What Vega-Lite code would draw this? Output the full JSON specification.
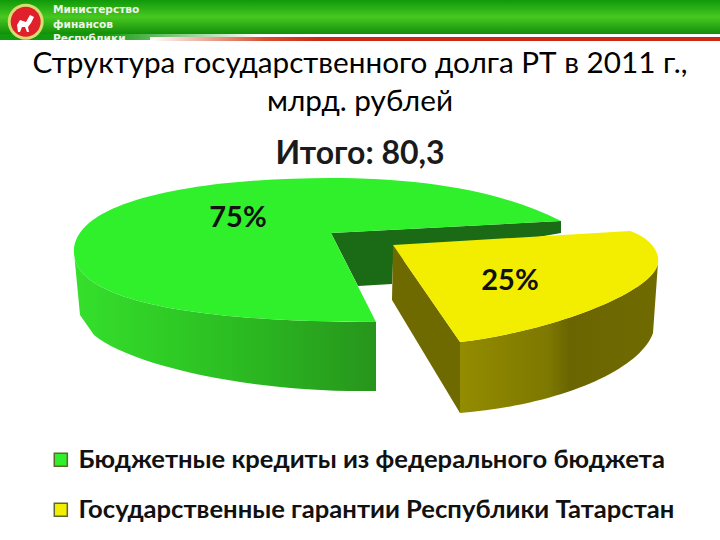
{
"$schema":"https://vega.github.io/schema/vega-lite/v6.json",
"width":720,"height":540,"autosize":"none","padding":0,"background":"white",
"config":{"view":{"stroke":null},"font":"Lato"},
"title":{"text":["Структура государственного долга РТ в 2011 г.,","млрд. рублей"],"subtitle":"Итого: 80,3","anchor":"middle","orient":"top","offset":0,"dy":171,"font":"Lato","fontSize":29.7,"fontWeight":"normal","color":"#000000","lineHeight":38,"subtitleFont":"Lato","subtitleFontSize":32,"subtitleFontWeight":"bold","subtitleColor":"#1a1a1a","subtitlePadding":21},
"datasets":{"shares":[{"category":"Бюджетные кредиты из федерального бюджета","share":0.75},{"category":"Государственные гарантии Республики Татарстан","share":0.25}],"org":[{"org":"Министерство\nфинансов\nРеспублики"}]},
"layer":[
{"data":{"name":"org"},"mark":{"type":"point","filled":true,"size":4,"strokeWidth":0,"opacity":1,"shape":"M-360,-270 H360 V-236 H-360 Z","fill":{"gradient":"linear","x1":0,"y1":0,"x2":0,"y2":1,"stops":[{"offset":0,"color":"#0f990a"},{"offset":0.5,"color":"#48c820"},{"offset":1,"color":"#128f0a"}]}}},
{"data":{"name":"org"},"mark":{"type":"point","filled":true,"size":4,"strokeWidth":0,"opacity":1,"shape":"M-360,-236 H-100 V-230 H-360 Z","fill":{"gradient":"linear","x1":0,"y1":0,"x2":1,"y2":0,"stops":[{"offset":0,"color":"#129a10"},{"offset":0.4,"color":"#129a10"},{"offset":1,"color":"#ffffff"}]}}},
{"data":{"name":"org"},"mark":{"type":"text","lineBreak":"\n","align":"left","baseline":"alphabetic","dx":-307,"dy":-257,"font":"DejaVu Sans","fontSize":10.6,"fontWeight":"bold","lineHeight":14.5,"color":"#eef5e6"},"encoding":{"text":{"field":"org"}}},
{"data":{"name":"org"},"mark":{"type":"point","filled":true,"size":4,"strokeWidth":0,"opacity":1,"shape":"M-360,-230 H360 V-150 H-360 Z","fill":"#ffffff"}},
{"data":{"name":"org"},"mark":{"type":"point","filled":true,"size":4,"strokeWidth":0,"opacity":1,"shape":"M-210,-233 H360 V-229 H-210 Z","fill":{"gradient":"linear","x1":0,"y1":0,"x2":1,"y2":0,"stops":[{"offset":0,"color":"#ffffff"},{"offset":0.2,"color":"#d8502f"},{"offset":0.3,"color":"#c92a10"},{"offset":1,"color":"#c92a10"}]}}},
{"data":{"name":"org"},"mark":{"type":"point","filled":true,"size":4,"strokeWidth":0,"opacity":1,"shape":"M-352.3,-248.3 a18,18 0 1,0 36,0 a18,18 0 1,0 -36,0 Z","fill":"#d9dc70"}},
{"data":{"name":"org"},"mark":{"type":"point","filled":true,"size":4,"strokeWidth":0,"opacity":1,"shape":"M-349.3,-248.3 a15,15 0 1,0 30,0 a15,15 0 1,0 -30,0 Z","fill":"#e0202a"}},
{"data":{"name":"org"},"mark":{"type":"point","filled":true,"size":4,"strokeWidth":0,"opacity":1,"shape":"M-343,-245 L-340,-250 L-334,-248 L-330,-255 L-326,-253 L-329,-247 L-332,-243 L-331,-238 L-333,-238 L-335,-243 L-338,-243 L-340,-238 L-342,-238 Z","fill":"#ffffff"}},
{"data":{"name":"shares"},"transform":[{"filter":"datum.share > 0.5"}],"mark":{"type":"point","filled":true,"size":4,"strokeWidth":0,"opacity":1,"shape":"M-29,-37 L201,-49 L201,-37 L33,-8 L32,14 L-2,16 Z","fill":"#1b6a15"}},
{"data":{"name":"shares"},"transform":[{"filter":"datum.share > 0.5"}],"mark":{"type":"point","filled":true,"size":4,"strokeWidth":0,"opacity":1,"shape":"M-286,-18 C-286,30 -170,52 16,52 L16,121 C-110,123 -230,95 -266,65 L-280,45 Z","fill":{"gradient":"linear","x1":0,"y1":0,"x2":1,"y2":0,"stops":[{"offset":0,"color":"#35e02c"},{"offset":0.5,"color":"#2cbf22"},{"offset":1,"color":"#27951c"}]}}},
{"data":{"name":"shares"},"transform":[{"filter":"datum.share < 0.5"}],"mark":{"type":"point","filled":true,"size":4,"strokeWidth":0,"opacity":1,"shape":"M33,-25 L100,72 L100,143 L32,30 Z","fill":"#6f6a00"}},
{"data":{"name":"shares"},"transform":[{"filter":"datum.share < 0.5"}],"mark":{"type":"point","filled":true,"size":4,"strokeWidth":0,"opacity":1,"shape":"M100,72 C200,60 295,20 298,-7 L293,63 C280,100 200,135 100,143 Z","fill":{"gradient":"linear","x1":0,"y1":0,"x2":1,"y2":0,"stops":[{"offset":0,"color":"#938c00"},{"offset":0.45,"color":"#7d7800"},{"offset":0.55,"color":"#6a6500"},{"offset":1,"color":"#706b00"}]}}},
{"data":{"name":"shares"},"transform":[{"filter":"datum.share > 0.5"}],"mark":{"type":"point","filled":true,"size":4,"strokeWidth":0,"opacity":1,"shape":"M201,-49 C140,-80 60,-92 -30,-92 C-140,-92 -286,-75 -286,-18 C-286,30 -170,52 16,52 L-29,-37 Z"},"encoding":{"color":{"field":"category","type":"nominal","scale":{"domain":["Бюджетные кредиты из федерального бюджета","Государственные гарантии Республики Татарстан"],"range":["#30f02c","#f3ee00"]},"legend":{"title":null,"orient":"none","legendX":48,"legendY":447,"symbolType":"square","symbolSize":170,"symbolStrokeColor":"#5a6a30","symbolStrokeWidth":1.5,"labelFont":"Lato","labelFontSize":25.6,"labelFontWeight":"bold","labelColor":"#111111","labelLimit":700,"labelOffset":5,"rowPadding":23,"symbolOpacity":1}}}},
{"data":{"name":"shares"},"transform":[{"filter":"datum.share < 0.5"}],"mark":{"type":"point","filled":true,"size":4,"strokeWidth":0,"opacity":1,"shape":"M33,-25 L270,-39 C288,-33 300,-20 298,-7 C295,20 200,60 100,72 Z"},"encoding":{"color":{"field":"category","type":"nominal"}}},
{"data":{"name":"shares"},"mark":{"type":"text","font":"Lato","fontSize":29,"fontWeight":"bold","color":"#111111"},"encoding":{
"text":{"field":"share","type":"quantitative","format":".0%"},
"x":{"field":"category","type":"nominal","axis":null,"scale":{"type":"point","padding":0,"domain":["Бюджетные кредиты из федерального бюджета","Государственные гарантии Республики Татарстан"],"range":[238,510]}},
"y":{"field":"category","type":"nominal","axis":null,"scale":{"type":"point","padding":0,"domain":["Бюджетные кредиты из федерального бюджета","Государственные гарантии Республики Татарстан"],"range":[218,281]}}}}
]}
